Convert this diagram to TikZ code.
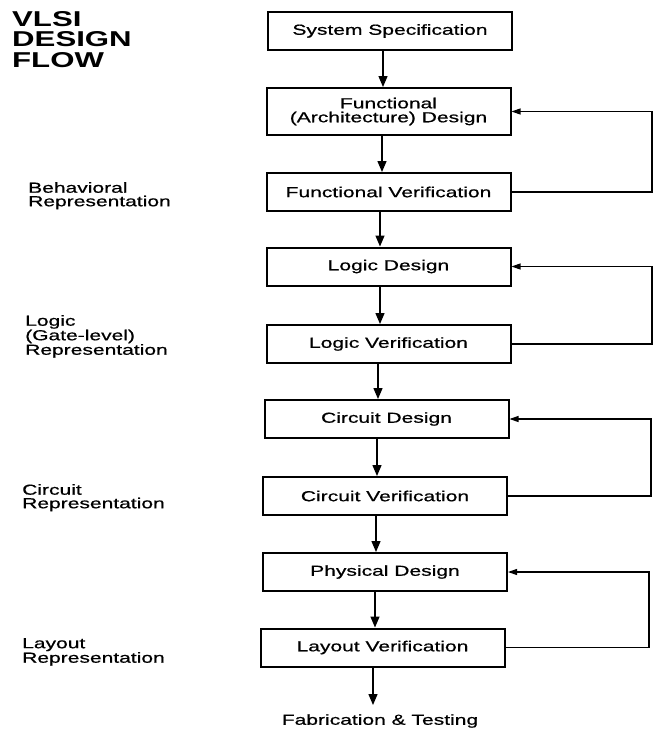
\documentclass[tikz,border=0pt]{standalone}
\usepackage{fontspec}
\setmainfont{Liberation Sans}[FakeStretch=1.45, UprightFeatures={FakeBold=0.7}, BoldFeatures={FakeBold=0}]
\usetikzlibrary{arrows.meta}
\begin{document}
\begin{tikzpicture}[x=1pt,y=-1pt,
  stage/.style={draw, line width=2pt, minimum width=244pt, minimum height=38pt,
    inner sep=0pt, align=center, font=\fontsize{14.5}{15}\selectfont},
  arr/.style={line width=1.3pt, -{Triangle[length=11pt,width=9pt]}},
  fb/.style={line width=1.1pt, -{Triangle[length=9pt,width=6pt]}},
  side/.style={anchor=north west, align=left, inner sep=0pt, font=\fontsize{14.5}{13.5}\selectfont},
  title/.style={anchor=north west, align=left, inner sep=0pt, font=\bfseries\fontsize{21.5}{20.5}\selectfont}]
\useasboundingbox (0,0) rectangle (654,731);
\fill[white] (0,0) rectangle (654,731);

\node[title] (ttl) at (12,11) {VLSI\\DESIGN\\FLOW};

\node[stage] (ss) at (390,31) {System Specification};
\node[stage, minimum height=47pt] (fd) at (388.5,111.5) {Functional\\[-1pt](Architecture) Design};
\node[stage] (fv) at (388.5,192) {Functional Verification};
\node[stage] (ld) at (388.5,266.5) {Logic Design};
\node[stage] (lv) at (388.5,344) {Logic Verification};
\node[stage] (cd) at (386.5,419) {Circuit Design};
\node[stage] (cv) at (385,496) {Circuit Verification};
\node[stage] (pd) at (385,572) {Physical Design};
\node[stage] (lyv) at (382.5,647.5) {Layout Verification};
\node[inner sep=0pt, font=\fontsize{14.5}{15}\selectfont] (fab) at (380,721) {Fabrication \& Testing};

\node[side] (beh) at (28,182) {Behavioral\\Representation};
\node[side] (lrep) at (25,315) {Logic\\(Gate-level)\\Representation};
\node[side] (crep) at (22,484) {Circuit\\Representation};
\node[side] (lyrep) at (22,638) {Layout\\Representation};

\draw[arr] (ss.south -| 383,0) -- (fd.north -| 383,0);
\draw[arr] (fd.south -| 382,0) -- (fv.north -| 382,0);
\draw[arr] (fv.south -| 380,0) -- (ld.north -| 380,0);
\draw[arr] (ld.south -| 380,0) -- (lv.north -| 380,0);
\draw[arr] (lv.south -| 378,0) -- (cd.north -| 378,0);
\draw[arr] (cd.south -| 377,0) -- (cv.north -| 377,0);
\draw[arr] (cv.south -| 376,0) -- (pd.north -| 376,0);
\draw[arr] (pd.south -| 375,0) -- (lyv.north -| 375,0);
\draw[arr] (lyv.south -| 373,0) -- ([yshift=9pt]fab.north -| 373,0);

\coordinate (k1) at (652,0);
\coordinate (k2) at (652,0);
\coordinate (k3) at (651,0);
\coordinate (k4) at (649,0);
\draw[fb] (fv.east) -- (fv.east -| k1) -- (fd.east -| k1) -- (fd.east);
\draw[fb] (lv.east) -- (lv.east -| k2) -- (ld.east -| k2) -- (ld.east);
\draw[fb] (cv.east) -- (cv.east -| k3) -- (cd.east -| k3) -- (cd.east);
\draw[fb] (lyv.east) -- (lyv.east -| k4) -- (pd.east -| k4) -- (pd.east);
\end{tikzpicture}
\end{document}
